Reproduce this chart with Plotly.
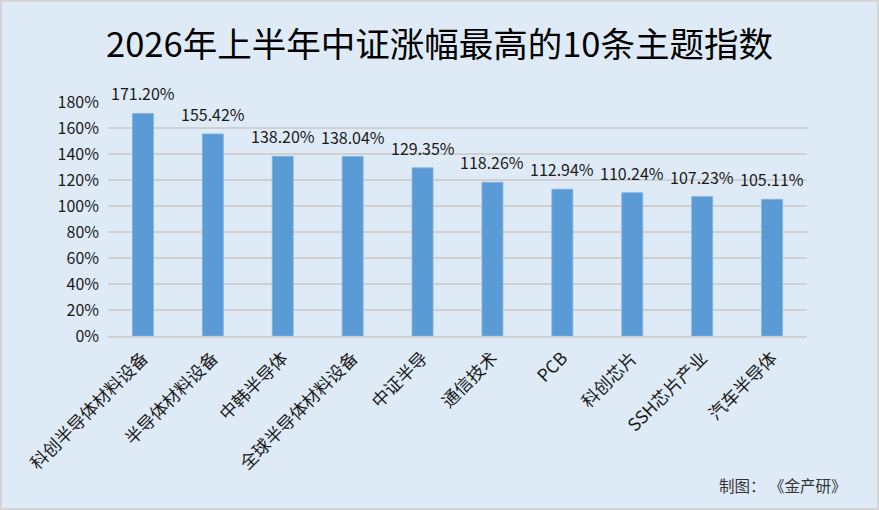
import plotly.graph_objects as go

categories = ["科创半导体材料设备", "半导体材料设备", "中韩半导体", "全球半导体材料设备",
              "中证半导", "通信技术", "PCB", "科创芯片", "SSH芯片产业", "汽车半导体"]
values = [1.7120, 1.5542, 1.3820, 1.3804, 1.2935, 1.1826, 1.1294, 1.1024, 1.0723, 1.0511]
labels = ["171.20%", "155.42%", "138.20%", "138.04%", "129.35%", "118.26%",
          "112.94%", "110.24%", "107.23%", "105.11%"]
y_ticks = [0, 0.2, 0.4, 0.6, 0.8, 1.0, 1.2, 1.4, 1.6, 1.8]

W, H = 879, 510
L, R, T, B = 108, 72, 102, 174
pw, ph = W - L - R, H - T - B

def px_x(p):
    return (p - L) / pw

def px_y(p):
    return (H - B - p) / ph

FONT = "Noto Sans CJK SC, Noto Sans, sans-serif"
BG = "#DEEBF7"

fig = go.Figure(go.Bar(
    x=categories, y=values,
    marker=dict(color="#5B9BD5", line=dict(color="#7FB2E0", width=0.8)),
    width=0.30,
))

annos = [dict(x=c, y=v, text=t, xref="x", yref="y", showarrow=False,
              yanchor="bottom", yshift=6,
              font=dict(size=16, color="#1a1a1a", family=FONT))
         for c, v, t in zip(categories, values, labels)]
annos.append(dict(text="制图： 《金产研》", xref="paper", yref="paper",
                  x=px_x(848), y=px_y(485), xanchor="right", yanchor="middle",
                  showarrow=False, font=dict(size=15.5, color="#333333", family=FONT)))

fig.update_layout(
    width=W, height=H,
    margin=dict(l=L, r=R, t=T, b=B),
    paper_bgcolor=BG, plot_bgcolor=BG,
    font=dict(family=FONT, color="#1a1a1a"),
    showlegend=False,
    title=dict(text="2026年上半年中证涨幅最高的10条主题指数",
               x=0.5, xref="container", xanchor="center",
               y=1 - 45 / H, yref="container", yanchor="middle",
               font=dict(size=34.5, color="#000000", family=FONT)),
    xaxis=dict(tickangle=-45, tickfont=dict(size=17.5, color="#1a1a1a"),
               showline=True, linecolor="#D0D0D0", linewidth=2,
               ticks="", showgrid=False, ticklabelstandoff=3),
    yaxis=dict(range=[0, 1.8], tickvals=y_ticks, tickformat=".0%",
               tickfont=dict(size=16, color="#1a1a1a"),
               showgrid=True, gridcolor="#D0D0D0", gridwidth=1.5,
               zeroline=False, showline=False, ticks="",
               ticklabelstandoff=8),
    shapes=[dict(type="rect", xref="paper", yref="paper",
                 x0=px_x(1), x1=px_x(878), y0=px_y(509), y1=px_y(1),
                 line=dict(color="#D4D4D4", width=2), fillcolor="rgba(0,0,0,0)")],
    annotations=annos,
)

fig.write_html("out.html", config={"displayModeBar": False},
               post_script="document.body.style.margin='0';document.body.style.overflow='hidden';")
